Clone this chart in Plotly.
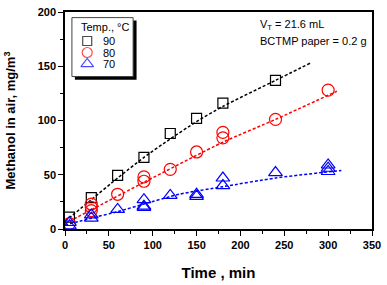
import plotly.graph_objects as go

# --- data ---
t90 = [5, 30, 60, 90, 120, 150, 180, 240]
m90 = [11, 29, 49.5, 66, 88, 102, 116, 137]

t80 = [5, 30, 30, 30, 60, 90, 90, 120, 150, 180, 180, 240, 300]
m80 = [5, 17, 20, 23, 32, 44, 48, 55, 71, 84, 89, 101, 128]

t70 = [5, 5, 30, 30, 60, 90, 90, 90, 120, 150, 150, 180, 180, 240, 300, 300, 300]
m70 = [3, 6, 10, 13, 18, 20, 21, 27, 31, 30, 32, 40, 47, 52, 53, 56, 59]

fit90_t = [0, 30, 60, 90, 120, 150, 180, 240, 280]
fit90_m = [7, 27, 47, 66, 83, 99, 113, 137, 153]
fit80_t = [0, 90, 180, 240, 310]
fit80_m = [5, 43, 80, 101, 127]
fit70_t = [0, 30, 60, 90, 130, 180, 240, 315]
fit70_m = [3.5, 10, 16, 23, 32, 39, 47, 54]

labels = ["90", "80", "70"]
legend_title = "Temp., °C"
colors = ["#000000", "#ff0000", "#0000ff"]
symbols = ["square-open", "circle-open", "triangle-up-open"]
sizes = [10, 12, 12]
legend_sizes = [9, 10, 11]

FONT = "Liberation Sans, Arial, sans-serif"

# plot-area pixel geometry (for placing legend / notes)
L, R, T, B = 65, 376, 6, 238
def px(x):
    return (x - L) / (R - L)
def py(y):
    return (B - y) / (B - T)

fig = go.Figure()

for ft, fm, c in [(fit90_t, fit90_m, colors[0]), (fit80_t, fit80_m, colors[1]), (fit70_t, fit70_m, colors[2])]:
    fig.add_trace(go.Scatter(x=ft, y=fm, mode="lines", showlegend=False,
                             line=dict(color=c, width=1.5, dash="3px,2px", shape="spline", smoothing=0.6),
                             hoverinfo="skip"))

for tt, mm, lab, c, s, sz in zip([t90, t80, t70], [m90, m80, m70], labels, colors, symbols, sizes):
    fig.add_trace(go.Scatter(x=tt, y=mm, mode="markers", name=lab, showlegend=False,
                             marker=dict(symbol=s, size=sz, color=c, line=dict(color=c, width=1.2))))

# hand-built legend (tight spacing like the reference)
leg_y = [37, 49.3, 61.5]
fig.add_trace(go.Scatter(x=[px(87.5)] * 3, y=[py(v) for v in leg_y], xaxis="x2", yaxis="y2",
                         mode="markers", showlegend=False, hoverinfo="skip",
                         marker=dict(symbol=symbols, size=legend_sizes, color=colors,
                                     line=dict(color=colors, width=1.2))))
for lab, v in zip(labels, leg_y):
    fig.add_annotation(xref="paper", yref="paper", x=px(101), y=py(v), xanchor="left", yanchor="middle",
                       showarrow=False, text=lab, font=dict(family=FONT, size=11, color="black"))
fig.add_annotation(xref="paper", yref="paper", x=px(79), y=py(22), xanchor="left", yanchor="middle",
                   showarrow=False, text=legend_title, font=dict(family=FONT, size=11, color="black"))

fig.add_shape(type="rect", xref="paper", yref="paper",
              x0=px(75), x1=px(137.5), y0=py(78.5), y1=py(15),
              fillcolor="black", line=dict(width=0), layer="below")
fig.add_shape(type="rect", xref="paper", yref="paper",
              x0=px(72), x1=px(134), y0=py(75), y1=py(12),
              fillcolor="white", line=dict(color="#444444", width=1), layer="below")

axis_common = dict(
    showline=True, linecolor="black", linewidth=1.5, mirror=True,
    ticks="outside", ticklen=5, tickwidth=1.2, tickcolor="black",
    showgrid=False, zeroline=False,
    tickfont=dict(family=FONT, size=11, color="black", weight="bold"),
    minor=dict(ticks="outside", ticklen=3, tickwidth=1, tickcolor="black", dtick=25, showgrid=False),
)

fig.update_xaxes(range=[0, 350], dtick=50, tick0=0,
                 title=dict(text="Time , min", font=dict(family=FONT, size=15, color="black", weight="bold"), standoff=18),
                 **axis_common)
fig.update_yaxes(range=[0, 200], dtick=50, tick0=0,
                 title=dict(text="Methanol in air, mg/m<sup>3</sup>", font=dict(family=FONT, size=13, color="black", weight="bold"), standoff=19),
                 **axis_common)

fig.add_annotation(xref="paper", yref="paper", x=px(261), y=py(20),
                   xanchor="left", yanchor="middle", showarrow=False,
                   text="V<sub>T</sub> = 21.6 mL", font=dict(family=FONT, size=11, color="black"))
fig.add_annotation(xref="paper", yref="paper", x=px(261), y=py(37),
                   xanchor="left", yanchor="middle", showarrow=False,
                   text="BCTMP paper = 0.2 g", font=dict(family=FONT, size=11, color="black"))

fig.update_layout(
    width=387, height=285,
    margin=dict(l=L, r=387 - R, t=T, b=285 - B),
    paper_bgcolor="white", plot_bgcolor="white",
    font=dict(family=FONT, color="black"),
    xaxis2=dict(overlaying="x", range=[0, 1], visible=False),
    yaxis2=dict(overlaying="y", range=[0, 1], visible=False),
    showlegend=False,
)

fig.write_html("out.html", config={"displayModeBar": False},
               post_script="document.body.style.margin='0';document.body.style.overflow='hidden';")
